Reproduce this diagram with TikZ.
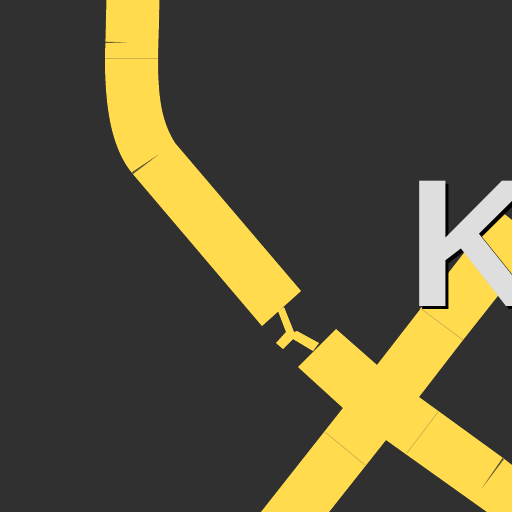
\documentclass[tikz,border=0pt]{standalone}
\usepackage{fontspec}
\setmainfont{Liberation Sans}
\definecolor{asphalt}{HTML}{303030}
\definecolor{roadyellow}{HTML}{FFDB4D}
\definecolor{seamline}{HTML}{CDB04E}
\definecolor{letterwhite}{HTML}{DEDEDE}
\tikzset{
  road/.style={fill=roadyellow,draw=none},
  seam/.style={draw=seamline,line width=0.2pt},
  crack/.style={fill=asphalt,draw=none,opacity=0.75},
  letter/.style={anchor=base west,inner sep=0pt,font=\fontsize{51.8pt}{52pt}\selectfont\bfseries}
}
\begin{document}
\begin{tikzpicture}[x=0.01cm,y=-0.01cm]

  % Background
  \clip (0,0) rectangle (512,512);
  \fill[asphalt] (0,0) rectangle (512,512);

  % Upper road with the bend
  \fill[road] (106.5,0) -- (105,58) .. controls (105,110) and (112,148) .. (132,173)
    -- (262,326) -- (301,291) -- (175,143)
    .. controls (162,122) and (158,100) .. (158,58) -- (159.5,0) -- cycle;

  % Crossing
  \fill[road] (298,367) -- (336,329) -- (377,365) -- (498,209) -- (512,220)
    -- (512,278) -- (463,340) -- (419,397) -- (503,458) -- (512,465)
    -- (512,512) -- (487,512) -- (386,440) -- (329,512) -- (261,512)
    -- (343,408) -- cycle;

  % Small fork between the two
  \fill[road] (278,311) -- (284,307) -- (294,332) -- (297,331) -- (319,343)
    -- (313,351) -- (293,339) -- (283,349) -- (276,343) -- (286,332) -- cycle;

  % Seams
  \draw[seam] (105,58) -- (158,58);
  \draw[seam] (420,308) -- (463,340);
  \draw[seam] (325,432) -- (365,465);
  \draw[seam] (438,412) -- (407,453);

  % Cracks
  \fill[crack] (105,41.7) -- (127,42.3) -- (105,43) -- cycle;
  \fill[crack] (131.5,172.5) -- (158,155) -- (133,174) -- cycle;
  \fill[crack] (502.5,458) -- (482,488) -- (504,459) -- cycle;

  % Letter and its shadow
  \node[letter,text=black] (kshadow) at (409.5,309) {K};
  \node[letter,text=letterwhite] (kletter) at (406.5,306) {K};

\end{tikzpicture}
\end{document}
